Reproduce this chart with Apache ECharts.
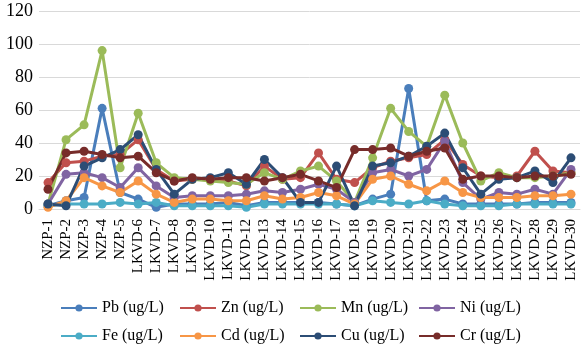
<!DOCTYPE html>
<html><head><meta charset="utf-8">
<script src="https://cdn.jsdelivr.net/npm/echarts@6/dist/echarts.min.js"></script>
<style>html,body{margin:0;padding:0;background:#fff}#c{width:585px;height:348px}</style>
</head><body><div id="c"></div>
<script>
const categories = ['NZP-1','NZP-2','NZP-3','NZP-4','NZP-5','LKVD-6','LKVD-7','LKVD-8','LKVD-9','LKVD-10','LKVD-11','LKVD-12','LKVD-13','LKVD-14','LKVD-15','LKVD-16','LKVD-17','LKVD-18','LKVD-19','LKVD-20','LKVD-21','LKVD-22','LKVD-23','LKVD-24','LKVD-25','LKVD-26','LKVD-27','LKVD-28','LKVD-29','LKVD-30'];
const Pb = [2,5,7,61,10,6,1,3,3,3,4,2,4,4,4,4,3,2,6,9,73,5,6,3,3,3,3,4,4,4];
const Zn = [16,28,29,32,33,42,24,17,18,18,17,14,26,18,19,34,18,16,25,29,31,33,42,27,20,19,20,35,23,22];
const Mn = [3,42,51,96,25,58,28,19,18,17,16,15,22,18,23,26,17,4,31,61,47,38,69,40,17,22,19,19,20,22];
const Ni = [3,21,22,19,13,25,14,7,8,8,8,9,11,10,12,15,12,4,22,24,20,24,41,16,6,10,9,12,9,24];
const Fe = [2,3,3,3,4,3,4,2,2,2,2,1,3,3,3,3,3,2,5,4,3,5,3,2,2,2,3,3,3,3];
const Cd = [1,5,19,14,10,17,9,4,6,6,5,5,8,6,7,10,8,3,18,20,15,11,17,10,7,7,7,8,8,9];
const Cu = [3,2,26,31,36,45,24,9,18,19,22,15,30,19,4,4,26,2,26,28,32,38,46,25,9,18,19,23,16,31];
const Cr = [12,34,35,33,31,32,22,17,19,18,19,19,17,19,21,17,13,36,36,37,32,35,37,18,20,20,19,20,20,21];
const yTicks = [0,20,40,60,80,100,120];

const names = ['Pb (ug/L)','Zn (ug/L)','Mn (ug/L)','Ni (ug/L)','Fe (ug/L)','Cd (ug/L)','Cu (ug/L)','Cr (ug/L)'];
const datas = [Pb,Zn,Mn,Ni,Fe,Cd,Cu,Cr];
const colors = ['#4a7ebb','#c0504d','#9bbb59','#8064a2','#4bacc6','#f79646','#2c4d75','#772c2a'];
const font = '"Liberation Serif","Times New Roman",serif';

const legendCols = [60,179,299,418];
const legendRows = [300,328];
const legends = names.map((n,i)=>({
  left: legendCols[i%4], top: legendRows[Math.floor(i/4)], orient:'horizontal', padding:0,
  itemWidth: 36, itemHeight: 9, itemGap: 6,
  data: [n],
  textStyle:{fontFamily:font,fontSize:16,color:'#000'}
}));

const chart = echarts.init(document.getElementById('c'));
chart.setOption({
  animation:false,
  color: colors,
  legend: legends,
  grid:{left:39,right:5,top:11,bottom:139,containLabel:false},
  xAxis:{type:'category',data:categories,boundaryGap:true,
    axisLine:{lineStyle:{color:'#d9d9d9'}},axisTick:{show:false},
    axisLabel:{rotate:90,interval:0,fontFamily:font,fontSize:15,color:'#000',margin:10}},
  yAxis:{type:'value',min:0,max:120,interval:20,
    axisLine:{show:false},axisTick:{show:false},
    splitLine:{lineStyle:{color:'#d9d9d9',width:1}},
    axisLabel:{fontFamily:font,fontSize:18,color:'#000',margin:6,
      formatter:v=>yTicks.includes(v)?String(v):''}},
  series: datas.map((d,i)=>({
    name:names[i],type:'line',data:d,symbol:'circle',symbolSize:9,
    lineStyle:{width:3,color:colors[i]},itemStyle:{color:colors[i]}
  }))
});
</script></body></html>
